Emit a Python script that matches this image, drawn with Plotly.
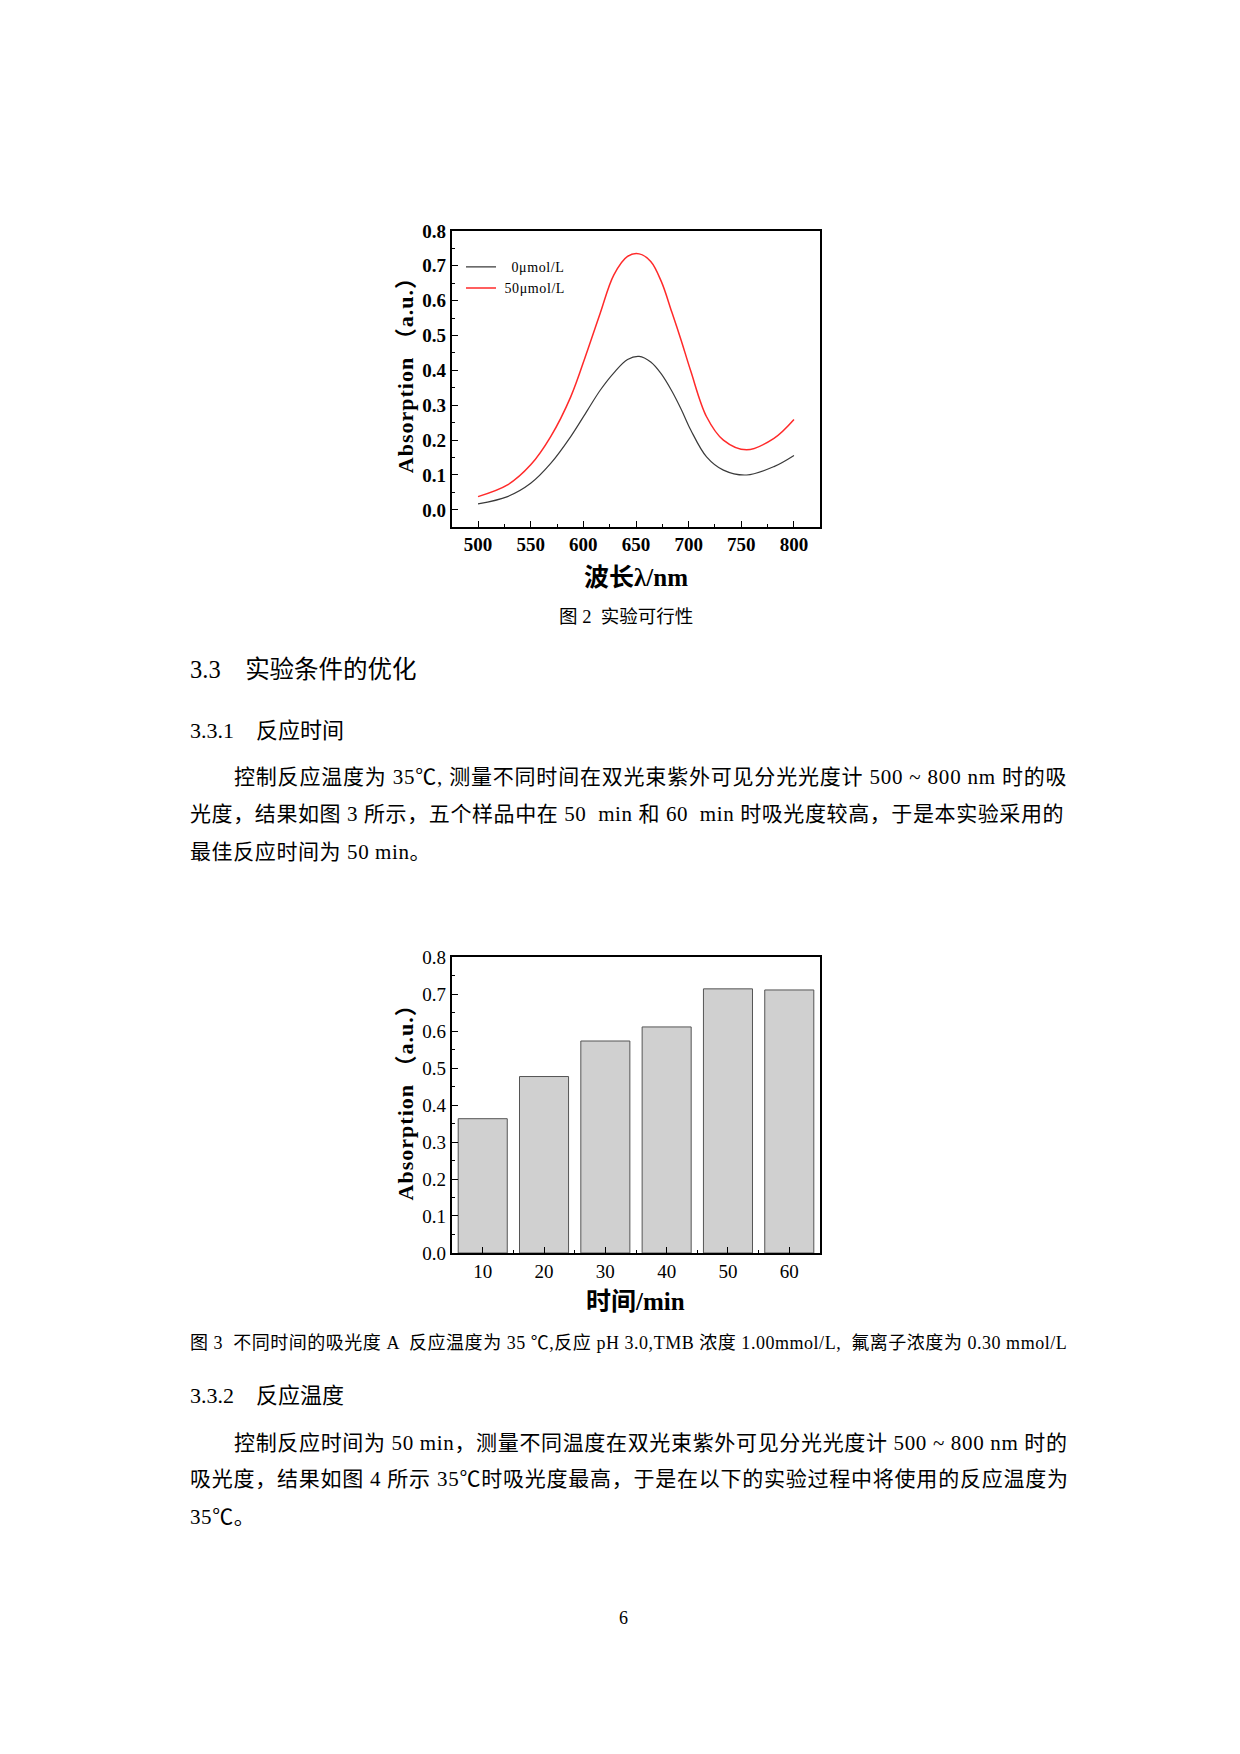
import plotly.graph_objects as go

# ---------------- data ----------------
wavelength = [500, 528, 550, 569, 588, 604, 616, 629, 642, 653, 664, 674, 684, 693, 702, 717, 733, 755, 781, 800]
abs_0 = [0.017, 0.038, 0.076, 0.133, 0.210, 0.286, 0.343, 0.393, 0.431, 0.440, 0.424, 0.390, 0.341, 0.288, 0.229, 0.152, 0.114, 0.100, 0.124, 0.156]
abs_50 = [0.038, 0.0715, 0.129, 0.210, 0.324, 0.458, 0.564, 0.674, 0.727, 0.734, 0.712, 0.655, 0.567, 0.485, 0.398, 0.267, 0.200, 0.172, 0.205, 0.259]
series_names = ["0μmol/L", "50μmol/L"]

time_min = [10, 20, 30, 40, 50, 60]
abs_time = [0.363, 0.477, 0.573, 0.611, 0.714, 0.711]

W, H = 1240, 1754
SERIF = "Liberation Serif, 'Noto Sans CJK SC', serif"

# the viewer shows the page slightly shifted/compressed vertically; compensate
V_OFF, V_SCALE = 7.9, 0.9905

def py(p):
    return 1 - ((p - V_OFF) / V_SCALE) / H

def px(p):
    return p / W

def spaced(s, ls):
    return '<span style="letter-spacing:%.2fpx">%s</span>' % (ls, s)

fig = go.Figure()

fig.add_trace(go.Scatter(x=wavelength, y=abs_0, mode="lines",
                         name="&nbsp;&nbsp;&nbsp;" + spaced(series_names[0], 0.6),
                         line=dict(color="#3a3a3a", width=1.2, shape="spline", smoothing=1.0),
                         xaxis="x", yaxis="y"))
fig.add_trace(go.Scatter(x=wavelength, y=abs_50, mode="lines",
                         name="&nbsp;" + spaced(series_names[1], 0.6),
                         line=dict(color="#ff2a2a", width=1.5, shape="spline", smoothing=1.0),
                         xaxis="x", yaxis="y"))
fig.add_trace(go.Bar(x=time_min, y=abs_time, width=8, showlegend=False,
                     marker=dict(color="#d0d0d0", line=dict(color="#555555", width=1)),
                     xaxis="x2", yaxis="y2"))

xdom = [px(451.7), px(820.3)]
axis_common = dict(showline=True, linecolor="black", linewidth=1.6, mirror=True,
                   ticks="inside", ticklen=6, tickwidth=1.2, tickcolor="black",
                   showgrid=False, zeroline=False)

fig.update_layout(
    width=W, height=H, margin=dict(l=0, r=0, t=0, b=0),
    paper_bgcolor="white", plot_bgcolor="white",
    xaxis=dict(domain=xdom, anchor="y", range=[475, 825], tickvals=[500, 550, 600, 650, 700, 750, 800],
               minor=dict(dtick=25, tick0=500, ticks="inside", ticklen=3, tickcolor="black"),
               tickfont=dict(family=SERIF, size=19, color="black", weight="bold"), **axis_common),
    yaxis=dict(domain=[py(526), py(229.3)], anchor="x", range=[-0.0486, 0.8], tickvals=[0, 0.1, 0.2, 0.3, 0.4, 0.5, 0.6, 0.7, 0.8],
               tickformat=".1f",
               minor=dict(dtick=0.05, tick0=0, ticks="inside", ticklen=3, tickcolor="black"),
               tickfont=dict(family=SERIF, size=19, color="black", weight="bold"), **axis_common),
    xaxis2=dict(domain=xdom, anchor="y2", range=[4.94, 65.06], tickvals=time_min,
                minor=dict(dtick=5, tick0=5, ticks="inside", ticklen=3, tickcolor="black"),
                tickfont=dict(family=SERIF, size=19, color="black"), **axis_common),
    yaxis2=dict(domain=[py(1254), py(957.3)], anchor="x2", range=[0, 0.8], tickvals=[0, 0.1, 0.2, 0.3, 0.4, 0.5, 0.6, 0.7, 0.8],
                tickformat=".1f",
                minor=dict(dtick=0.05, tick0=0, ticks="inside", ticklen=3, tickcolor="black"),
                tickfont=dict(family=SERIF, size=19, color="black"), **axis_common),
    legend=dict(x=px(461), y=py(249.7), xanchor="left", yanchor="top", bgcolor="rgba(0,0,0,0)",
                font=dict(family=SERIF, size=14, color="black"), tracegroupgap=0, itemwidth=30),
    showlegend=True,
)

ann = []
def text(x, y, s, size, xanchor="left", bold=False, angle=0, ls=None):
    if ls:
        s = spaced(s, ls)
    ann.append(dict(x=px(x), y=py(y), xref="paper", yref="paper", text=s, showarrow=False,
                    xanchor=xanchor, yanchor="middle", textangle=angle,
                    font=dict(family=SERIF, size=size, color="black", weight="bold" if bold else "normal")))

# axis titles
text(405, 369, "Absorption （a.u.）", 22, xanchor="center", bold=True, angle=-90, ls=1.0)
text(636, 577, "波长λ/nm", 25, xanchor="center", bold=True)
text(405, 1098, "Absorption （a.u.）", 22, xanchor="center", bold=True, angle=-90, ls=1.0)
text(635, 1303, "时间/min", 25, xanchor="center", bold=True)

# page text
text(626, 616, "图 2  实验可行性", 18.5, xanchor="center")
text(188, 669, "3.3&nbsp;&nbsp;&nbsp;&nbsp;实验条件的优化", 24.5)
text(188, 730, "3.3.1&nbsp;&nbsp;&nbsp;&nbsp;反应时间", 22)
text(232, 777, "控制反应温度为 35℃, 测量不同时间在双光束紫外可见分光光度计 500 ~ 800 nm 时的吸", 21, ls=0.8)
text(188, 814, "光度，结果如图 3 所示，五个样品中在 50&nbsp;&nbsp;min 和 60&nbsp;&nbsp;min 时吸光度较高，于是本实验采用的", 21, ls=0.6)
text(188, 852, "最佳反应时间为 50 min。", 21, ls=0.6)
text(188, 1344, "图 3  不同时间的吸光度 A  反应温度为 35 ℃,反应 pH 3.0,TMB 浓度 1.00mmol/L,  氟离子浓度为 0.30 mmol/L", 18, ls=0.53)
text(188, 1397, "3.3.2&nbsp;&nbsp;&nbsp;&nbsp;反应温度", 22)
text(232, 1444, "控制反应时间为 50 min，测量不同温度在双光束紫外可见分光光度计 500 ~ 800 nm 时的", 21, ls=0.66)
text(188, 1481, "吸光度，结果如图 4 所示 35℃时吸光度最高，于是在以下的实验过程中将使用的反应温度为", 21, ls=0.76)
text(188, 1519, "35℃。", 21, ls=0.6)
text(624, 1620, "6", 18, xanchor="center")

fig.update_layout(annotations=ann)
fig.write_html(
    "out.html",
    config={"displayModeBar": False},
    post_script=(
        "document.documentElement.style.margin='0';"
        "document.body.style.margin='0';document.body.style.padding='0';"
        "document.documentElement.style.overflow='hidden';document.body.style.overflow='hidden';"
        "var d=document.getElementById('{plot_id}');"
        "d.style.position='fixed';d.style.left='0px';d.style.top='0px';"
    ),
)
